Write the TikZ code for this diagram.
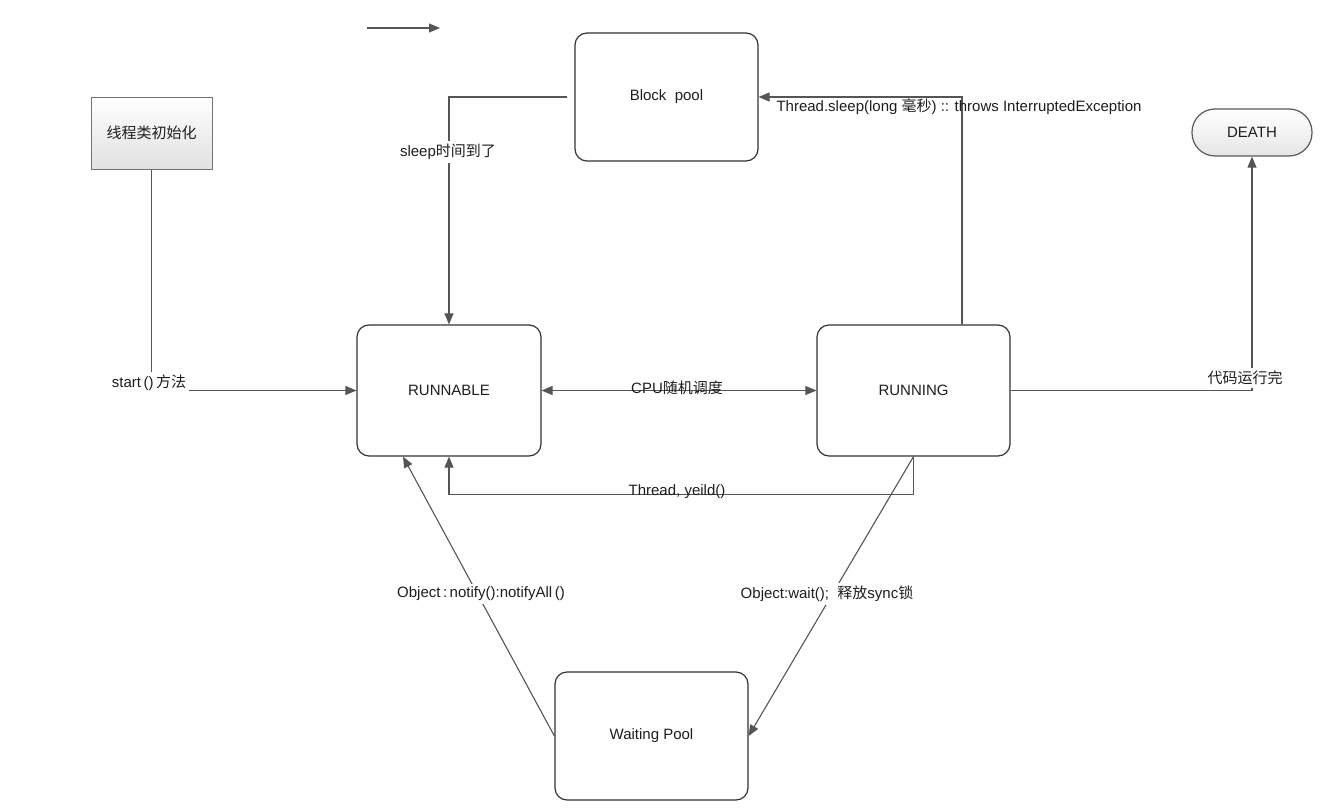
\documentclass[tikz,border=0pt]{standalone}
\usepackage{fontspec}
\setmainfont{Liberation Sans}
\newfontfamily\cjk{Noto Sans CJK SC}
\newcommand\zh[1]{{\cjk #1}}
\usetikzlibrary{arrows.meta}
\definecolor{lncol}{HTML}{555555}
\definecolor{txcol}{HTML}{1E1E1E}
\begin{document}
\begin{tikzpicture}[x=1pt,y=-1pt,
  every node/.style={text=txcol,font=\fontsize{15}{18}\selectfont},
  statebox/.style={draw=black!80,line width=1.2pt,rounded corners=12pt,fill=white},
  conn/.style={draw=lncol,line width=1.1pt},
  arr/.style={conn,-{Triangle[length=11pt,width=9pt]}},
  lbl/.style={inner sep=1pt},
  lblw/.style={fill=white,inner sep=3pt}]
\useasboundingbox (0,0) rectangle (1331,808);
% nodes
\node[draw=black!55,line width=1pt,top color=white,bottom color=black!12,minimum width=121pt,minimum height=72pt] (init) at (151.5,133) {\zh{线程类初始化}};
\node[statebox,minimum width=184pt,minimum height=131pt] (rn) at (449,390.5) {RUNNABLE};
\node[statebox,minimum width=193pt,minimum height=131pt] (ru) at (913.5,390.5) {RUNNING};
\node[statebox,minimum width=183pt,minimum height=128pt] (bp) at (666.5,97) {Block\ \ pool};
\node[statebox,minimum width=193pt,minimum height=128pt] (wp) at (651.5,736) {Waiting Pool};
\node[draw=black!65,line width=1.2pt,rounded corners=23pt,top color=white,bottom color=black!10,minimum width=120pt,minimum height=47pt] (dt) at (1252,132.5) {DEATH};
% top-left stray arrow
\coordinate (a1) at (367,28);
\coordinate (a2) at (440,28);
\draw[arr] (a1) -- (a2);
% start
\draw[arr] (init.south) |- (rn.west);
\node[lblw] (lstart) at (149,383) {start\,()\,\zh{方法}};
% block pool -> runnable
\coordinate (bpL) at ([xshift=-7pt]bp.west);
\draw[arr] (bpL) -| (rn.north);
\node[lblw] (lsleep) at (448,152) {sleep\zh{时间到了}};
% running -> block pool
\coordinate (ruT) at ([xshift=48.5pt]ru.north);
\draw[arr] (ruT) |- (bp.east);
\node[lbl] (lts) at (959,107) {Thread.sleep(long \zh{毫秒}) :: throws InterruptedException};
% CPU
\draw[conn,{Triangle[length=11pt,width=9pt]}-{Triangle[length=11pt,width=9pt]}] (rn.east) -- (ru.west);
\node[lbl] (lcpu) at (677,388) {CPU\zh{随机调度}};
% running -> death
\draw[arr] (ru.east) -| (dt.south);
\node[lblw] (ldeath) at (1245,378) {\zh{代码运行完}};
% yield
\draw[arr] (ru.south) -- ++(0,38) -| (rn.south);
\node[lbl] (lyield) at (677,492) {Thread, yeild()};
% wait
\draw[arr] (ru.south) -- (wp.east);
\node[lblw] (lwait) at (827,594) {Object:wait();\ \ \zh{释放}sync\zh{锁}};
% notify
\coordinate (rnB) at ([xshift=-46pt]rn.south);
\draw[arr] (wp.west) -- (rnB);
\node[lblw] (lnotify) at (481,594) {Object\,:\,notify():notifyAll\,()};
\end{tikzpicture}
\end{document}
